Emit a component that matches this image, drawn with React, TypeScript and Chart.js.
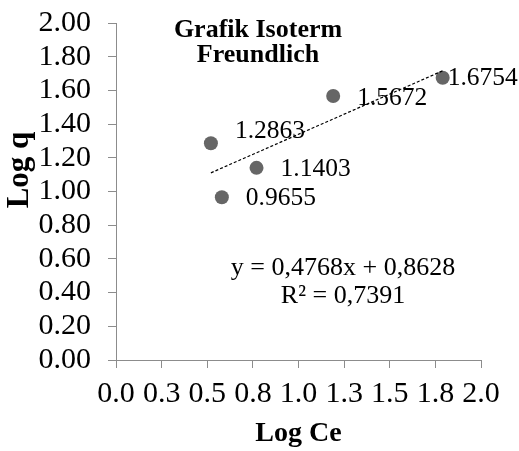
import React, { useEffect, useRef } from "react";
import { Chart, registerables } from "chart.js";

Chart.register(...registerables);

const logCe = [0.52, 0.58, 0.77, 1.19, 1.79];
const logQ = [1.2863, 0.9655, 1.1403, 1.5672, 1.6754];
const pointLabels = ["1.2863", "0.9655", "1.1403", "1.5672", "1.6754"];
const xTickLabels = ["0.0", "0.3", "0.5", "0.8", "1.0", "1.3", "1.5", "1.8", "2.0"];
const yTickLabels = ["0.00", "0.20", "0.40", "0.60", "0.80", "1.00", "1.20", "1.40", "1.60", "1.80", "2.00"];
const slope = 0.4768;
const intercept = 0.8628;
const equationLines = ["y = 0,4768x + 0,8628", "R² = 0,7391"];
const titleLines = ["Grafik Isoterm", "Freundlich"];
const xTitle = "Log Ce";
const yTitle = "Log q";

// label placement (pixels relative to point)
const labelOffsets = [
  [24, -12],
  [24, 1],
  [24, 1],
  [24, 2],
  [5, 1],
];

const FONT = "'Liberation Serif', 'Times New Roman', serif";

export default function App() {
  const ref = useRef<HTMLCanvasElement | null>(null);

  useEffect(() => {
    document.body.style.margin = "0";
    const canvas = ref.current;
    if (!canvas) return;

    const xMin = Math.min(...logCe);
    const xMax = Math.max(...logCe);
    const trend = [
      { x: xMin, y: slope * xMin + intercept },
      { x: xMax, y: slope * xMax + intercept },
    ];

    const annotate = {
      id: "annotate",
      afterDatasetsDraw(chart: any) {
        const { ctx, chartArea, scales } = chart;
        ctx.save();
        ctx.fillStyle = "#000";
        ctx.font = `25.5px ${FONT}`;
        ctx.textAlign = "left";
        ctx.textBaseline = "middle";
        logCe.forEach((x, i) => {
          const px = scales.x.getPixelForValue(x);
          const py = scales.y.getPixelForValue(logQ[i]);
          ctx.fillText(pointLabels[i], px + labelOffsets[i][0], py + labelOffsets[i][1]);
        });
        ctx.font = `bold 26px ${FONT}`;
        ctx.textAlign = "center";
        ctx.textBaseline = "alphabetic";
        const tx = chartArea.left + 142;
        ctx.fillText(titleLines[0], tx, chartArea.top + 14);
        ctx.fillText(titleLines[1], tx, chartArea.top + 39);
        ctx.font = `26px ${FONT}`;
        const ex = chartArea.left + 227;
        ctx.fillText(equationLines[0], ex, chartArea.top + 252);
        ctx.fillText(equationLines[1], ex, chartArea.top + 280);
        // y axis title
        ctx.font = `bold 31px ${FONT}`;
        ctx.textBaseline = "middle";
        ctx.translate(20, chartArea.top + 147);
        ctx.rotate(-Math.PI / 2);
        ctx.fillText(yTitle, 0, 0);
        ctx.restore();
      },
    };

    const chart = new Chart(canvas, {
      type: "scatter",
      data: {
        datasets: [
          {
            type: "line",
            data: trend,
            borderColor: "#000",
            borderWidth: 1.2,
            borderDash: [3, 2],
            pointRadius: 0,
            fill: false,
          } as any,
          {
            data: logCe.map((x, i) => ({ x, y: logQ[i] })),
            backgroundColor: "#666666",
            borderWidth: 0,
            pointRadius: 7,
            pointHoverRadius: 7,
          },
        ],
      },
      options: {
        animation: false,
        responsive: true,
        maintainAspectRatio: false,
        layout: { padding: { top: 23, right: 38, left: 0, bottom: 0 } },
        plugins: {
          legend: { display: false },
          tooltip: { enabled: false },
          title: { display: false },
        },
        scales: {
          x: {
            type: "linear",
            min: 0,
            max: 2,
            afterFit: (s: any) => {
              s.height = 91;
              s.paddingLeft = 0;
              s.paddingRight = 0;
            },
            ticks: {
              stepSize: 0.25,
              color: "#000",
              padding: 8,
              maxRotation: 0,
              autoSkip: false,
              font: { family: FONT, size: 30 },
              callback: (_v: any, i: number) => xTickLabels[i],
            },
            grid: {
              drawOnChartArea: false,
              drawTicks: true,
              tickLength: 8,
              color: "#8c8c8c",
            },
            border: { color: "#8c8c8c", width: 1 },
            title: {
              display: true,
              text: xTitle,
              color: "#000",
              padding: { top: 0, bottom: 0 },
              font: { family: FONT, size: 28, weight: "bold" },
            },
          },
          y: {
            type: "linear",
            min: 0,
            max: 2,
            afterFit: (s: any) => {
              s.width = 116;
              s.paddingTop = 0;
              s.paddingBottom = 0;
            },
            ticks: {
              stepSize: 0.2,
              color: "#000",
              padding: 17,
              autoSkip: false,
              font: { family: FONT, size: 30 },
              callback: (_v: any, i: number) => yTickLabels[i],
            },
            grid: {
              drawOnChartArea: false,
              drawTicks: true,
              tickLength: 8,
              color: "#8c8c8c",
            },
            border: { color: "#8c8c8c", width: 1 },
            title: { display: false },
          },
        },
      },
      plugins: [annotate],
    });

    return () => chart.destroy();
  }, []);

  return (
    <div style={{ width: 519, height: 451, position: "relative" }}>
      <canvas ref={ref} />
    </div>
  );
}
